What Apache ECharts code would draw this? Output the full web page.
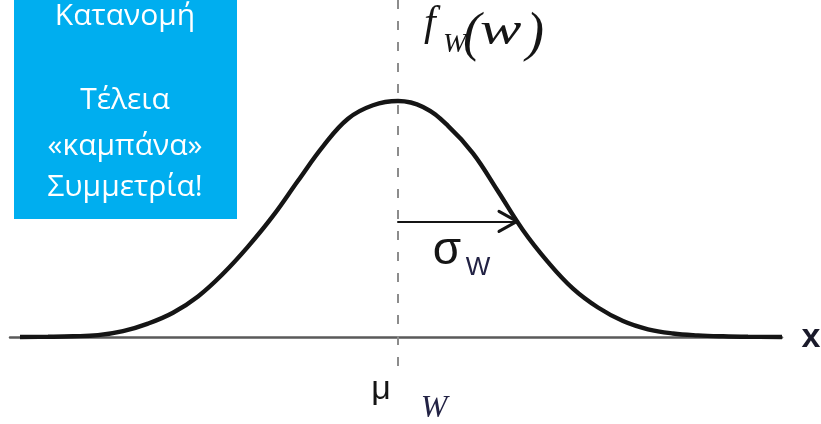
<!DOCTYPE html>
<html>
<head>
<meta charset="utf-8">
<script src="https://cdn.jsdelivr.net/npm/echarts@6/dist/echarts.min.js"></script>
<style>
  html, body { margin: 0; padding: 0; background: #ffffff; }
  #chart { width: 821px; height: 424px; }
</style>
</head>
<body>
<div id="chart"></div>
<script>
// Bell-shaped density f_W(w); w is measured from the mean.
const wValues = [-3.78, -3.5, -3.25, -3.0, -2.75, -2.5, -2.25, -2.0, -1.75, -1.5, -1.25, -1.0, -0.75, -0.5, -0.25,
                 0, 0.25, 0.5, 0.75, 1.0, 1.25, 1.5, 1.75, 2.0, 2.25, 2.5, 2.75, 3.0, 3.25, 3.5, 3.84];
const densityValues = [0.0000, 0.0004, 0.0012, 0.0032, 0.0100, 0.0228, 0.0412, 0.0688, 0.1072, 0.1532, 0.2052, 0.2648, 0.3232, 0.3700, 0.3928,
                       0.4000, 0.3900, 0.3580, 0.3112, 0.2470, 0.1810, 0.1270, 0.0820, 0.0500, 0.0270, 0.0130, 0.0060, 0.0028, 0.0012, 0.0004, 0.0000];

// Mean and one standard deviation; the sigma arrow ends where it meets the curve
const meanW = 0;
const sigmaW = 1.19;
const sigmaDensity = 0.196;

// Axis extents
const wMin = -3.88, wMax = 3.84;
const fMin = -0.0559, fMax = 0.5712;
const guideBottom = -0.049;

// Side-note lines
const noteLines = ['Κατανομή', 'Τέλεια', '«καμπάνα»', 'Συμμετρία!'];

const curveData = wValues.map((w, i) => [w, densityValues[i]]);

const chart = echarts.init(document.getElementById('chart'), null, { renderer: 'canvas' });

const serif = '"Liberation Serif", "DejaVu Serif", serif';
const sans = '"Liberation Sans", Arial, sans-serif';
const ink = '#151515';

// arrowhead size in axis units (18 px long, 10 px half-width)
const headLen = 0.18, headHalf = 0.0170;
const tipW = meanW + sigmaW;

const noteY = [16, 100, 146, 187];

chart.setOption({
  animation: false,
  backgroundColor: '#ffffff',
  grid: { left: 10, right: 39, top: 0, bottom: 54, containLabel: false },
  xAxis: {
    type: 'value', min: wMin, max: wMax,
    axisLine: { show: true, onZero: true, lineStyle: { color: '#5a5a5a', width: 2.5 } },
    axisTick: { show: false }, axisLabel: { show: false }, splitLine: { show: false }
  },
  yAxis: {
    type: 'value', min: fMin, max: fMax, show: false,
    axisLine: { show: false }, splitLine: { show: false }
  },
  series: [
    {
      name: 'f_W(w)',
      type: 'line',
      data: curveData,
      smooth: 0.4,
      showSymbol: false,
      silent: true,
      lineStyle: { color: ink, width: 4.4 },
      z: 3,
      markLine: {
        silent: true,
        symbol: ['none', 'none'],
        label: { show: false },
        lineStyle: { color: '#8c8c8c', width: 2, type: [9, 12] },
        data: [[{ coord: [meanW, fMax] }, { coord: [meanW, guideBottom] }]],
        z: 2
      }
    },
    {
      name: 'sigma',
      type: 'line',
      data: [],
      silent: true,
      markLine: {
        silent: true,
        symbol: ['none', 'none'],
        label: { show: false },
        lineStyle: { color: ink, width: 2, type: 'solid', cap: 'round' },
        data: [
          [{ coord: [meanW, sigmaDensity] }, { coord: [tipW, sigmaDensity] }],
          [{ coord: [tipW - headLen, sigmaDensity + headHalf], lineStyle: { width: 3 } },
           { coord: [tipW, sigmaDensity] }],
          [{ coord: [tipW - headLen, sigmaDensity - headHalf], lineStyle: { width: 3 } },
           { coord: [tipW, sigmaDensity] }]
        ],
        z: 4
      }
    }
  ],
  graphic: [
    {
      type: 'rect', shape: { x: 14, y: -2, width: 223, height: 221 },
      style: { fill: '#00aeef' }, z: 10
    },
    ...noteLines.map((t, i) => ({
      type: 'text', z: 11,
      style: {
        text: t, x: 125, y: noteY[i], align: 'center', verticalAlign: 'middle',
        fill: '#ffffff', font: '30px "Open Sans", "Noto Sans", sans-serif'
      }
    })),
    // f_W(w)
    { type: 'text', z: 11, style: { text: 'f', x: 424, y: 24, verticalAlign: 'middle', fill: ink, font: 'italic 42px ' + serif } },
    { type: 'text', z: 11, style: { text: 'W', x: 443, y: 45, verticalAlign: 'middle', fill: ink, font: 'italic 28px ' + serif } },
    { type: 'text', z: 11, style: { text: '(', x: 463, y: 36, verticalAlign: 'middle', fill: ink, font: 'italic 54px ' + serif } },
    { type: 'text', z: 11, x: 480, scaleX: 1.35, style: { text: 'w', x: 0, y: 32, verticalAlign: 'middle', fill: ink, font: 'italic 46px ' + serif } },
    { type: 'text', z: 11, style: { text: ')', x: 526, y: 36, verticalAlign: 'middle', fill: ink, font: 'italic 54px ' + serif } },
    // sigma_W
    { type: 'text', z: 11, style: { text: 'σ', x: 447, y: 251, align: 'center', verticalAlign: 'middle', fill: ink, font: '46px ' + sans } },
    { type: 'text', z: 11, style: { text: 'W', x: 478, y: 268, align: 'center', verticalAlign: 'middle', fill: '#222244', font: '26px ' + sans } },
    // mu_W
    { type: 'text', z: 11, style: { text: 'μ', x: 381, y: 390, align: 'center', verticalAlign: 'middle', fill: ink, font: '34px ' + sans } },
    { type: 'text', z: 11, style: { text: 'W', x: 434, y: 409, align: 'center', verticalAlign: 'middle', fill: '#222244', font: 'italic 32px ' + serif } },
    // axis name
    { type: 'text', z: 11, style: { text: 'x', x: 811, y: 338, align: 'center', verticalAlign: 'middle', fill: '#1a1a2a', font: 'bold 34px ' + sans } }
  ]
});
</script>
</body>
</html>
